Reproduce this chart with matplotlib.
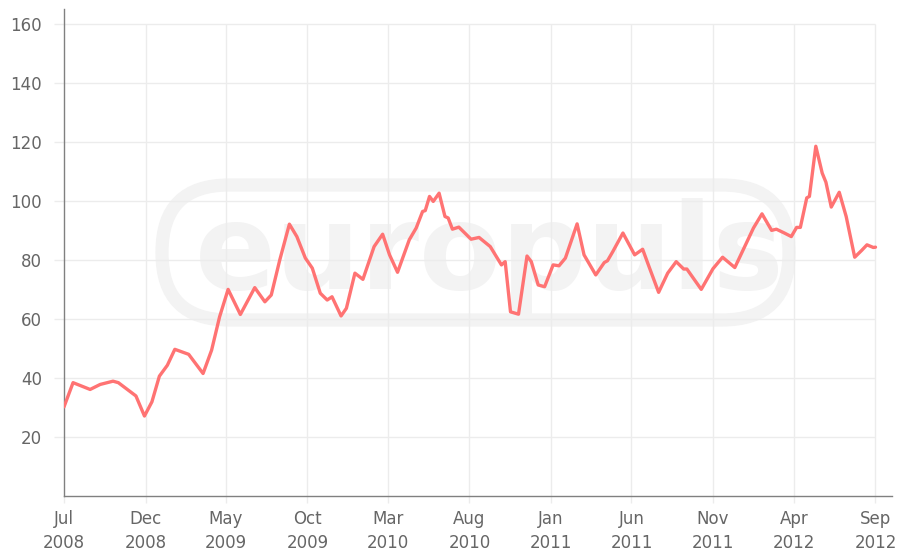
import matplotlib
matplotlib.use("Agg")
import matplotlib.pyplot as plt
from matplotlib.patches import FancyBboxPatch
import pandas as pd

# values
dates = [
    "2008-07-01", "2008-07-18", "2008-08-19", "2008-09-07", "2008-10-01", "2008-10-11",
    "2008-11-13", "2008-11-29", "2008-12-13", "2008-12-27", "2009-01-11", "2009-01-25",
    "2009-02-20", "2009-03-19", "2009-04-04", "2009-04-19", "2009-05-05", "2009-05-28",
    "2009-06-24", "2009-07-13", "2009-07-25", "2009-08-10", "2009-08-28", "2009-09-11",
    "2009-09-27", "2009-10-10", "2009-10-25", "2009-11-07", "2009-11-16", "2009-12-03",
    "2009-12-13", "2009-12-29", "2010-01-13", "2010-02-03", "2010-02-19", "2010-03-04",
    "2010-03-19", "2010-04-10", "2010-04-23", "2010-05-05", "2010-05-10", "2010-05-18",
    "2010-05-25", "2010-06-05", "2010-06-16", "2010-06-22", "2010-06-30", "2010-07-12",
    "2010-08-04", "2010-08-19", "2010-09-09", "2010-09-30", "2010-10-07", "2010-10-17",
    "2010-11-01", "2010-11-17", "2010-11-25", "2010-12-08", "2010-12-20", "2011-01-05",
    "2011-01-16", "2011-01-28", "2011-02-19", "2011-03-04", "2011-03-26", "2011-04-11",
    "2011-04-17", "2011-04-27", "2011-05-16", "2011-06-07", "2011-06-22", "2011-07-04",
    "2011-07-22", "2011-08-08", "2011-08-24", "2011-09-07", "2011-09-13", "2011-10-10",
    "2011-11-01", "2011-11-19", "2011-12-12", "2012-01-16", "2012-02-01", "2012-02-19",
    "2012-02-28", "2012-03-14", "2012-03-27", "2012-04-06", "2012-04-13", "2012-04-25",
    "2012-04-30", "2012-05-12", "2012-05-24", "2012-05-31", "2012-06-10", "2012-06-25",
    "2012-07-08", "2012-07-24", "2012-08-06", "2012-08-16", "2012-08-28", "2012-09-01",
]
values = [
    30.2, 38.4, 36.1, 37.8, 38.9, 38.4,
    33.9, 27.1, 31.9, 40.6, 44.3, 49.7,
    48.0, 41.5, 49.4, 60.7, 70.0, 61.5,
    70.6, 65.8, 68.1, 80.0, 92.1, 87.9,
    80.6, 77.2, 68.7, 66.4, 67.5, 61.0,
    63.6, 75.5, 73.4, 84.5, 88.7, 81.7,
    75.8, 86.8, 90.8, 96.4, 96.7, 101.5,
    99.8, 102.6, 94.7, 94.2, 90.4, 91.1,
    87.0, 87.6, 84.5, 78.3, 79.4, 62.4,
    61.6, 81.3, 79.4, 71.5, 70.9, 78.3,
    78.0, 80.6, 92.2, 81.7, 74.9, 79.1,
    79.7, 82.8, 89.1, 81.7, 83.6, 77.7,
    69.0, 75.5, 79.4, 76.9, 76.9, 70.0,
    77.0, 80.9, 77.4, 90.8, 95.6, 90.0,
    90.4, 89.1, 87.9, 91.0, 91.0, 101.0,
    101.5, 118.5, 109.4, 106.3, 97.9, 102.9,
    94.7, 80.9, 83.2, 85.1, 84.2, 84.3,
]
tick_dates = ["2008-07-01", "2008-12-01", "2009-05-01", "2009-10-01", "2010-03-01", "2010-08-01",
              "2011-01-01", "2011-06-01", "2011-11-01", "2012-04-01", "2012-09-01"]
tick_labels = ["Jul\n2008", "Dec\n2008", "May\n2009", "Oct\n2009", "Mar\n2010", "Aug\n2010",
               "Jan\n2011", "Jun\n2011", "Nov\n2011", "Apr\n2012", "Sep\n2012"]
y_ticks = [20, 40, 60, 80, 100, 120, 140, 160]

x = pd.to_datetime(dates)
xt = pd.to_datetime(tick_dates)

grid_c = "#ececec"
text_c = "#666666"
axis_c = "#808080"
wm_c = "#f3f3f3"

fig = plt.figure(figsize=(9.01, 5.52), dpi=100)
ax = fig.add_axes([64 / 901, 1 - 496 / 552, (892 - 64) / 901, (496 - 9) / 552])

# faint watermark behind the grid
pill = FancyBboxPatch((162, 552 - 320), 627, 135, boxstyle="round,pad=0,rounding_size=67",
                      transform=None, facecolor="none", edgecolor=wm_c, linewidth=9.5,
                      zorder=0, clip_on=False)
ax.add_artist(pill)
ax.text(490 / 901, 1 - 256 / 552, "europuls", transform=fig.transFigure, fontsize=86,
        fontweight="bold", color=wm_c, ha="center", va="center", zorder=0, clip_on=False)

ax.hlines(y_ticks, xt[0], xt[-1], color=grid_c, linewidth=1, zorder=1)
ax.vlines(xt[1:], 0, 160, color=grid_c, linewidth=1, zorder=1)

ax.plot(x, values, color="#ff7373", linewidth=2.4, solid_joinstyle="round",
        solid_capstyle="round", zorder=3)

ax.set_xlim(pd.Timestamp("2008-07-01"), pd.Timestamp("2012-10-02"))
ax.set_ylim(0, 165)
ax.set_xticks(xt)
ax.set_xticklabels(tick_labels, linespacing=1.45)
ax.set_yticks(y_ticks)

for s in ["top", "right"]:
    ax.spines[s].set_visible(False)
for s in ["left", "bottom"]:
    ax.spines[s].set_color(axis_c)
    ax.spines[s].set_linewidth(1)

ax.tick_params(axis="y", length=7, width=1, color=grid_c, labelcolor=text_c, labelsize=12, pad=9)
ax.tick_params(axis="x", length=5, width=1, color=grid_c, labelcolor=text_c, labelsize=12, pad=5)

fig.savefig("out.png", dpi=100)
